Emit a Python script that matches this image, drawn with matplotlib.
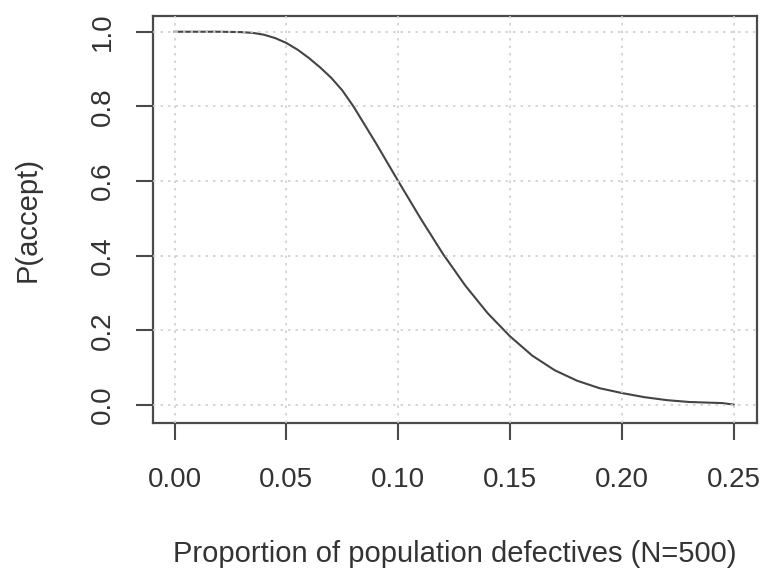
import numpy as np
import matplotlib.pyplot as plt

plt.rcParams['font.family'] = ['Liberation Sans', 'DejaVu Sans']

# proportion defective in the lot and probability of accepting the lot
p_defective = [0.000, 0.010, 0.020, 0.030, 0.035, 0.040, 0.045, 0.050, 0.055,
               0.060, 0.065, 0.070, 0.075, 0.080, 0.090, 0.100, 0.110, 0.120,
               0.130, 0.140, 0.150, 0.160, 0.170, 0.180, 0.190, 0.200, 0.210,
               0.220, 0.230, 0.240, 0.245, 0.250]
p_accept = [1.000, 1.000, 1.000, 0.999, 0.997, 0.992, 0.983, 0.970, 0.952,
            0.930, 0.905, 0.877, 0.843, 0.800, 0.702, 0.600, 0.500, 0.405,
            0.320, 0.246, 0.184, 0.132, 0.093, 0.065, 0.045, 0.032, 0.021,
            0.013, 0.008, 0.006, 0.005, 0.001]

x_ticks = [0.00, 0.05, 0.10, 0.15, 0.20, 0.25]
x_ticklabels = ["0.00", "0.05", "0.10", "0.15", "0.20", "0.25"]
y_ticks = [0.0, 0.2, 0.4, 0.6, 0.8, 1.0]
y_ticklabels = ["0.0", "0.2", "0.4", "0.6", "0.8", "1.0"]

W, H = 766, 568
fig = plt.figure(figsize=(W / 100, H / 100), dpi=100)
left, right, top, bottom = 153.3, 757.3, 15.7, 422.5
ax = fig.add_axes([left / W, 1 - bottom / H, (right - left) / W, (bottom - top) / H])

txt = '#333333'
edge = '#4a4a4a'

ax.plot(p_defective, p_accept, color='#444444', lw=1.5, zorder=2)

# grid drawn on top of the curve, as R's grid() does after plot()
for xv in x_ticks:
    ax.axvline(xv, color='#d0d0d0', lw=1.2, ls=(0, (1.5, 3)), zorder=3)
for yv in y_ticks:
    ax.axhline(yv, color='#d0d0d0', lw=1.2, ls=(0, (1.5, 3)), zorder=3)

ax.set_xlim(-0.0095, 0.2606)
ax.set_ylim(-0.047, 1.043)

ax.set_xticks(x_ticks)
ax.set_xticklabels(x_ticklabels)
ax.set_yticks(y_ticks)
ax.set_yticklabels(y_ticklabels, rotation=90, va='center')

ax.tick_params(axis='both', direction='out', length=12, width=1.5,
               color=edge, labelsize=20, labelcolor=txt)
ax.tick_params(axis='x', pad=20)
ax.tick_params(axis='y', pad=15)

for s in ax.spines.values():
    s.set_color(edge)
    s.set_linewidth(1.6)

fig.text(455 / W, 6 / H, "Proportion of population defectives (N=500)",
         fontsize=21, color=txt, ha='center', va='baseline')
fig.text(28 / W, 1 - 219 / H, "P(accept)", fontsize=21, color=txt,
         rotation=90, ha='center', va='center')

plt.savefig('out.png', dpi=100)
